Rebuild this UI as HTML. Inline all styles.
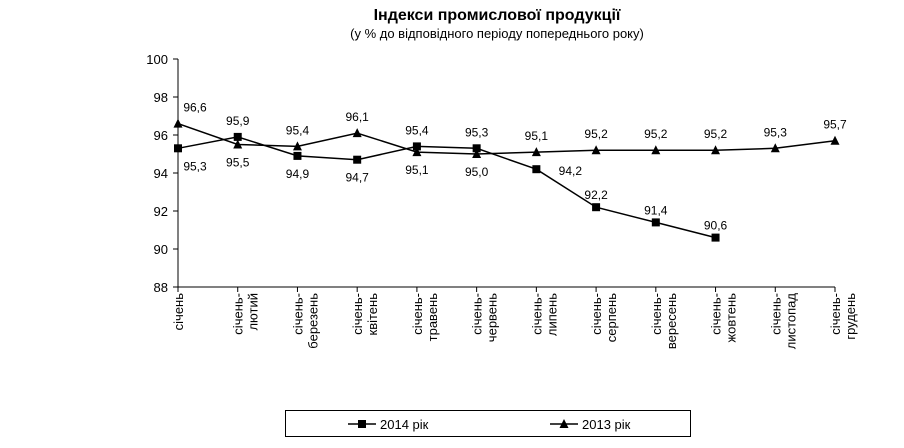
<!DOCTYPE html>
<html><head><meta charset="utf-8"><style>
body{margin:0;background:#fff}
svg{display:block;font-family:"Liberation Sans",Arial,sans-serif}
</style></head><body>
<svg id="c" width="904" height="448" xmlns="http://www.w3.org/2000/svg">
<text x="497" y="20" text-anchor="middle" font-size="16" font-weight="bold">Індекси промислової продукції</text>
<text x="497" y="38" text-anchor="middle" font-size="13">(у % до відповідного періоду попереднього року)</text>
<g id="axes"></g><g id="marks"></g>
<rect x="285.5" y="410.5" width="405" height="26" fill="none" stroke="#000"/>
<g>
<line x1="348" y1="424" x2="376" y2="424" stroke="#000" stroke-width="1.5"/><rect x="358" y="420" width="8" height="8"/>
<text x="380" y="429" font-size="13">2014 рік</text></g>
<g>
<line x1="550" y1="424" x2="578" y2="424" stroke="#000" stroke-width="1.5"/><path d="M564,419 L568.5,428 L559.5,428Z"/>
<text x="582" y="429" font-size="13">2013 рік</text></g>
</svg>
<script>
const line1 = ["січень","січень-","січень-","січень-","січень-","січень-","січень-","січень-","січень-","січень-","січень-","січень-"];
const line2 = ["","лютий","березень","квітень","травень","червень","липень","серпень","вересень","жовтень","листопад","грудень"];
const yTicks = [88,90,92,94,96,98,100];
const s2014 = [95.3,95.9,94.9,94.7,95.4,95.3,94.2,92.2,91.4,90.6];
const s2013 = [96.6,95.5,95.4,96.1,95.1,95.0,95.1,95.2,95.2,95.2,95.3,95.7];
const labels2014 = ["95,3","95,9","94,9","94,7","95,4","95,3","94,2","92,2","91,4","90,6"];
const labels2013 = ["96,6","95,5","95,4","96,1","95,1","95,0","95,1","95,2","95,2","95,2","95,3","95,7"];
const NS="http://www.w3.org/2000/svg";
const X0=178,X1=835,Y0=287,Y1=59;
const x=i=>X0+i*(X1-X0)/(line1.length-1);
const y=v=>Y0-(v-88)*(Y0-Y1)/12;
function mk(t,a,p){const e=document.createElementNS(NS,t);for(const k in a)e.setAttribute(k,a[k]);p.appendChild(e);return e;}
const ax=document.getElementById('axes'),mg=document.getElementById('marks');
const ya=mk('line',{x1:X0,y1:Y1,x2:X0,y2:Y0,stroke:'#000'},ax);


const xa=mk('line',{x1:X0,y1:Y0,x2:X1,y2:Y0,stroke:'#000'},ax);


yTicks.forEach(v=>{
  mk('line',{x1:X0-5,y1:y(v),x2:X0,y2:y(v),stroke:'#000'},ax);
  const t=mk('text',{x:X0-10,y:y(v)+5,'text-anchor':'end','font-size':13},ax);t.textContent=v;
  
  
});
line1.forEach((l,i)=>{
  mk('line',{x1:x(i),y1:Y0,x2:x(i),y2:Y0+5,stroke:'#000'},ax);
  const g=mk('text',{transform:`translate(${x(i)+5},293) rotate(-90)`,'text-anchor':'end','font-size':13},ax);
  
  
  const a=mk('tspan',{x:0,y:0},g);a.textContent=l;
  if(line2[i]){const b=mk('tspan',{x:0,y:15},g);b.textContent=line2[i];}
});
function series(d,name,sq,lab,below){
  const p=mk('polyline',{points:d.map((v,i)=>x(i)+','+y(v)).join(' '),fill:'none',stroke:'#000','stroke-width':1.5},mg);
  
  
  d.forEach((v,i)=>{
    const m=sq?mk('rect',{x:x(i)-4,y:y(v)-4,width:8,height:8},mg):mk('path',{d:`M${x(i)},${y(v)-5} L${x(i)+4.5},${y(v)+4} L${x(i)-4.5},${y(v)+4}Z`},mg);
    
    
    const b=below(i);
    const t=mk('text',{x:x(i)+(i===0?17:0),y:y(v)+(b?22:-12),'text-anchor':'middle','font-size':12},mg);
    t.textContent=lab[i];
    
    
  });
}
series(s2014,'series-2014',true,labels2014,i=>[0,2,3].includes(i));
series(s2013,'series-2013',false,labels2013,i=>[1,4,5].includes(i));
const l14=[...mg.querySelectorAll('text')].slice(0,10);
[6,7,8,9].forEach(i=>{l14[i].setAttribute('x',x(i)+(i===6?34:0));l14[i].setAttribute('y',y(s2014[i])+(i===6?6:-8));});
</script>
</body></html>
